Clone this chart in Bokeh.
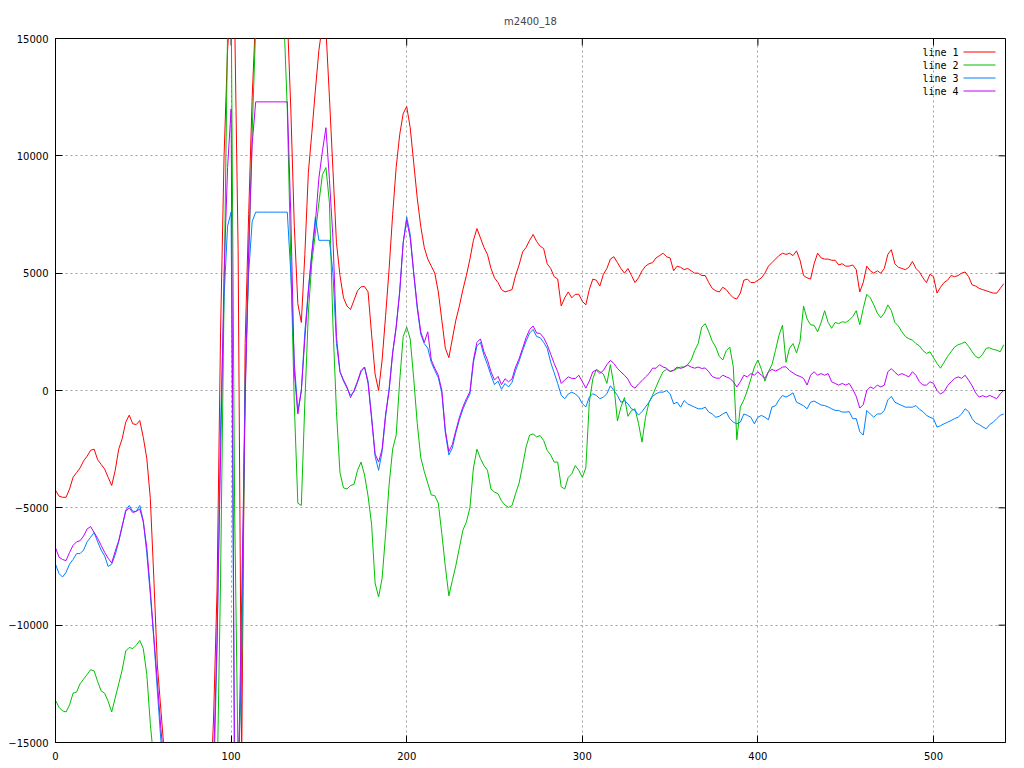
from bokeh.plotting import figure
from bokeh.models import Range1d, FixedTicker, ColumnDataSource
from bokeh.core.properties import value
from bokeh.embed import file_html
from bokeh.resources import INLINE

TITLE = "m2400_18"
SERIES_NAMES = ["line 1", "line 2", "line 3", "line 4"]
COLORS = ["#ff0000", "#00c000", "#0080ff", "#c000ff"]
X_TICKS = [0, 100, 200, 300, 400, 500]
Y_TICKS = [-15000, -10000, -5000, 0, 5000, 10000, 15000]
X_MAX = 541
Y_MIN, Y_MAX = -15000, 15000

# sample index (every 2nd sample)
X = list(range(0, 541, 2))

LINE1 = [
    -4250, -4500, -4550, -4550, -4200, -3700, -3500, -3300, -3000, -2800,
    -2550, -2500, -2950, -3150, -3350, -3700, -4050, -3400, -2500, -2050,
    -1350, -1050, -1420, -1450, -1280, -2000, -2900, -4600, -8000, -11700,
    -13600, -15500, -17000, -18000, -18000, -18000, -18000, -18000, -18000, -18000,
    -18000, -18000, -18000, -18000, -17500, -14000, -8500, 2500, 10000, 14500,
    17000, 16000, 6000, -16000, 2000, 7500, 12500, 16000, 18000, 18000,
    18000, 18000, 18000, 18000, 18000, 18000, 16000, 12000, 7000, 3700,
    2900, 5800, 9300, 11000, 12800, 14500, 15600, 15400, 12500, 9400,
    6300, 4900, 3950, 3600, 3450, 3850, 4250, 4420, 4430, 4200,
    2400, 700, 0, 1300, 3200, 5200, 7500, 9500, 10900, 11800,
    12100, 11200, 9700, 8200, 7000, 6100, 5600, 5300, 5000, 4200,
    3000, 1800, 1400, 2200, 3000, 3600, 4300, 4900, 5600, 6400,
    6900, 6500, 6100, 5800, 5200, 4800, 4600, 4300, 4200, 4250,
    4300, 4900, 5350, 5900, 6100, 6400, 6650, 6350, 6150, 6050,
    5400, 5200, 4850, 4750, 3600, 3950, 4200, 3950, 4100, 4100,
    3800, 3650, 4300, 4750, 4700, 4450, 4950, 5200, 5600, 5700,
    5450, 5200, 5000, 5200, 4900, 4600, 4800, 5100, 5300, 5400,
    5450, 5650, 5750, 5850, 5700, 5650, 5100, 5300, 5250, 5150,
    5200, 5100, 5000, 5000, 4900, 4900, 4600, 4350, 4250, 4200,
    4400, 4300, 4100, 3950, 3900, 4150, 4700, 4750, 4600, 4600,
    4700, 4800, 5000, 5300, 5450, 5600, 5750, 5850, 5800, 5850,
    5750, 5950, 5550, 4900, 4800, 4750, 5400, 5850, 5650, 5600,
    5600, 5550, 5550, 5350, 5400, 5300, 5300, 5350, 5150, 4200,
    4600, 5300, 5100, 5000, 5100, 5000, 5200, 5800, 6000, 5400,
    5250, 5200, 5150, 5250, 5500, 5200, 5050, 4800, 4600, 4950,
    4850, 4150, 4400, 4600, 4700, 4900, 4850, 4900, 5000, 5050,
    4850, 4500, 4450, 4350, 4300, 4250, 4200, 4150, 4150, 4350,
    4550,
]

LINE2 = [
    -13200, -13500, -13650, -13700, -13400, -12900, -12850, -12500, -12300, -12100,
    -11900, -11950, -12400, -12800, -12900, -13250, -13700, -13100, -12500, -11900,
    -11100, -10950, -11000, -10850, -10650, -11000, -12100, -14200, -15800, -17500,
    -18000, -18000, -18000, -18000, -18000, -18000, -18000, -18000, -18000, -18000,
    -18000, -18000, -18000, -18000, -18000, -18000, -17000, -8000, 4000, 15500,
    17000, -5000, -16000, -12000, 0, 5500, 11000, 15500, 18000, 18000,
    18000, 18000, 18000, 18000, 18000, 16000, 12000, 5500, -600, -4800,
    -4900, -500, 3300, 5500, 6700, 8000, 9200, 9500, 8000, 2800,
    -900, -3500, -4150, -4200, -4050, -4000, -3400, -3050, -3600, -4500,
    -5700, -8200, -8800, -8000, -6100, -4000, -2500, -1900, 400, 2300,
    2700, 2200, 500, -1400, -2850, -3450, -3950, -4450, -4480, -4800,
    -6100, -7500, -8750, -8100, -7450, -6700, -5950, -5600, -5000, -3300,
    -2500, -2900, -3200, -3400, -4200, -4330, -4400, -4700, -4880, -4980,
    -4900, -4400, -3950, -3200, -2400, -1900, -1850, -1980, -1920, -2130,
    -2550, -2750, -3050, -3050, -4100, -4200, -3700, -3550, -3200, -3400,
    -3700, -3300, -500, 500, 900, 800, 700, 300, 1100, 200,
    -1300, -700, -300, -1100, -850, -780, -1400, -2200, -1150, -500,
    -200, 150, 500, 800, 900, 820, 850, 940, 1000, 1000,
    1100, 1300, 1700, 2000, 2700, 2850, 2500, 2100, 1850, 1450,
    1300, 1700, 1850, 1000, -2100, -700, -400, 0, 500, 1000,
    1300, 900, 400, 800, 1100, 1700, 2350, 2780, 1200, 1800,
    2000, 1600, 2100, 3600, 3050, 2800, 2780, 2500, 2900, 3400,
    2900, 2650, 2900, 2850, 2930, 2900, 3000, 3150, 3400, 2800,
    3500, 4100, 3950, 3650, 3300, 3100, 3300, 3650, 3400, 2900,
    2750, 2500, 2300, 2200, 2150, 2000, 1900, 1700, 1580, 1650,
    1400, 1150, 950, 1200, 1450, 1650, 1850, 1950, 2000, 2070,
    1880, 1650, 1450, 1380, 1550, 1800, 1820, 1750, 1720, 1650,
    1950,
]

LINE3 = [
    -7400, -7800, -7950, -7750, -7400, -7200, -6950, -6950, -6800, -6450,
    -6250, -6050, -6450, -6800, -7050, -7500, -7400, -7000, -6450, -5800,
    -5100, -4900, -5150, -5150, -4900, -5550, -6950, -8700, -10600, -12800,
    -14900, -16500, -18000, -18000, -18000, -18000, -18000, -18000, -18000, -18000,
    -18000, -18000, -18000, -18000, -18000, -17000, -11000, -1500, 4000, 7000,
    7600, -17000, -17000, -11000, 500, 5000, 7200, 7600, 7600, 7600,
    7600, 7600, 7600, 7600, 7600, 7600, 7600, 5000, 1200, -900,
    0, 2500, 4300, 5900, 7400, 6400, 6400, 6400, 6400, 5000,
    2000, 800, 400, 100, -200, -50, 350, 800, 1000, 400,
    -1100, -2800, -3400, -2600, -1100, 100, 1600, 2700, 4200, 6300,
    7400, 6650, 5000, 3500, 2400, 2000, 1800, 1200, 850, 550,
    -100, -1800, -2750, -2450, -1800, -1250, -800, -450, -150, 1200,
    1900, 2050, 1500, 1100, 650, 250, 400, 50, 300, 150,
    350, 850, 1250, 1700, 2100, 2450, 2600, 2300, 2250, 2050,
    1800, 1200, 750, 300, -200, -350, -150, -70, -150, -280,
    -560, -700, -280, -140, -210, -350, -280, -140, 200, 0,
    -210, -500, -430, -570, -780, -850, -1050, -900, -700, -500,
    -250, -140, -70, -70, 0, -140, -570, -500, -710, -430,
    -570, -640, -710, -780, -780, -710, -920, -1000, -1140, -1100,
    -1000, -920, -1200, -1350, -1420, -1350, -1000, -1060, -1140, -1420,
    -1140, -1060, -1140, -1250, -700, -650, -400, -210, -280, -200,
    -100, -500, -570, -650, -780, -500, -450, -530, -620, -640,
    -700, -780, -850, -850, -920, -920, -900, -1200, -1200, -1750,
    -1900, -850, -1000, -1140, -1000, -1000, -850, -400, -250, -500,
    -570, -640, -710, -710, -710, -640, -800, -900, -1060, -1140,
    -1200, -1560, -1500, -1420, -1350, -1280, -1200, -1140, -1000, -780,
    -900, -1200, -1380, -1450, -1550, -1630, -1450, -1350, -1200, -1060,
    -1000,
]

LINE4 = [
    -6700, -7100, -7200, -7250, -6900, -6600, -6450, -6400, -6200, -5900,
    -5800, -6050, -6300, -6600, -6900, -7150, -7350, -6850, -6400, -5750,
    -5150, -5000, -5200, -5150, -5050, -5600, -6700, -8500, -10500, -12400,
    -14400, -16000, -18000, -18000, -18000, -18000, -18000, -18000, -18000, -18000,
    -18000, -18000, -18000, -18000, -18000, -16000, -10500, -2800, 5000, 9500,
    12000, -17000, -17000, -9000, -500, 6000, 10500, 12300, 12300, 12300,
    12300, 12300, 12300, 12300, 12300, 12300, 12300, 7500, 800, -1000,
    0, 2200, 4200, 5850, 7150, 9050, 10200, 11200, 9000, 6500,
    2300, 800, 450, 150, -300, 0, 400, 850, 1000, 300,
    -1200, -2700, -3050, -2500, -1000, 0, 1600, 2700, 4200, 6300,
    7250, 6500, 5000, 3600, 2500, 2050, 2500, 1300, 950, 650,
    0, -1700, -2600, -2300, -1700, -1150, -700, -350, -50, 1300,
    2050, 2200, 1650, 1300, 800, 450, 600, 250, 500, 370,
    500, 1000, 1350, 1800, 2250, 2600, 2750, 2450, 2430, 2250,
    1950, 1550, 1150, 800, 300, 450, 580, 520, 510, 650,
    380, 100, 400, 800, 870, 730, 850, 1100, 1280, 1150,
    940, 790, 650, 480, 200, 100, 280, 420, 580, 720,
    950, 950, 1100, 1000, 950, 800, 870, 1000, 940, 1000,
    1080, 1000, 950, 1000, 940, 960, 800, 600, 530, 520,
    650, 580, 520, 370, 150, 370, 650, 580, 720, 650,
    800, 650, 520, 800, 900, 830, 900, 1000, 1010, 850,
    750, 650, 600, 520, 230, 650, 800, 650, 720, 650,
    720, 370, 300, 230, 300, 230, 300, 50, -250, -750,
    -600, 0, 150, 80, 230, 150, 230, 800, 930, 780,
    650, 720, 650, 580, 800, 650, 370, 230, 230, 370,
    300, 0, -150, -50, 200, 370, 510, 580, 520, 650,
    440, 200, -100, -280, -220, -280, -210, -280, -350, -140,
    0,
]

SERIES = [LINE1, LINE2, LINE3, LINE4]

FONT = "DejaVu Sans"
MONO = "DejaVu Sans Mono"

p = figure(
    frame_width=950, frame_height=704,
    x_range=Range1d(0, X_MAX), y_range=Range1d(Y_MIN, Y_MAX),
    output_backend="svg", toolbar_location=None,
    min_border_left=55, min_border_right=15, min_border_top=38, min_border_bottom=22,
    background_fill_color="white", border_fill_color="white",
)
p.title.text = TITLE
p.title.align = "center"
p.title.text_font = FONT
p.title.text_font_size = "10px"
p.title.text_font_style = "normal"
p.title.standoff = 24

p.outline_line_color = "black"
p.outline_line_width = 1

for ax in (p.xaxis[0], p.yaxis[0]):
    ax.axis_line_color = "black"
    ax.major_tick_line_color = "black"
    ax.major_tick_in = 7
    ax.major_tick_out = 0
    ax.minor_tick_line_color = None
    ax.major_label_text_font = FONT
    ax.major_label_text_font_size = "10px"
    ax.major_label_text_color = "black"
p.xaxis[0].ticker = FixedTicker(ticks=X_TICKS)
p.yaxis[0].ticker = FixedTicker(ticks=Y_TICKS)
p.xaxis[0].major_label_standoff = 9
p.yaxis[0].major_label_standoff = 7

for g in (p.xgrid[0], p.ygrid[0]):
    g.grid_line_color = "#a0a0a0"
    g.grid_line_dash = "2 3"
    g.grid_line_width = 1
p.xgrid[0].ticker = FixedTicker(ticks=X_TICKS)
p.ygrid[0].ticker = FixedTicker(ticks=Y_TICKS)

px_x = X_MAX / 950.0
px_y = (Y_MAX - Y_MIN) / 704.0

# mirrored inward tick marks on the top and right borders
p.segment(x0=X_TICKS, y0=[Y_MAX] * len(X_TICKS), x1=X_TICKS,
          y1=[Y_MAX - 7 * px_y] * len(X_TICKS), line_color="black", line_width=1)
p.segment(x0=[X_MAX] * len(Y_TICKS), y0=Y_TICKS, x1=[X_MAX - 7 * px_x] * len(Y_TICKS),
          y1=Y_TICKS, line_color="black", line_width=1)

for vals, color in zip(SERIES, COLORS):
    p.line(X, vals, line_color=color, line_width=1)

# gnuplot-style key: label right-aligned, sample line to its right
row_y = [Y_MAX - (13.5 + 13 * i) * px_y for i in range(len(SERIES_NAMES))]
key_src = ColumnDataSource(dict(
    tx=[X_MAX - 47 * px_x] * len(SERIES_NAMES), ty=row_y, label=SERIES_NAMES,
    x0=[X_MAX - 42 * px_x] * len(SERIES_NAMES), x1=[X_MAX - 10 * px_x] * len(SERIES_NAMES),
    color=COLORS,
))
p.text(x="tx", y="ty", text="label", source=key_src, text_align="right",
       text_baseline="middle", text_font=value(MONO), text_font_size=value("10px"),
       text_color="black")
p.segment(x0="x0", y0="ty", x1="x1", y1="ty", source=key_src, line_color="color", line_width=1)

open("out.html", "w").write(file_html(p, INLINE))
